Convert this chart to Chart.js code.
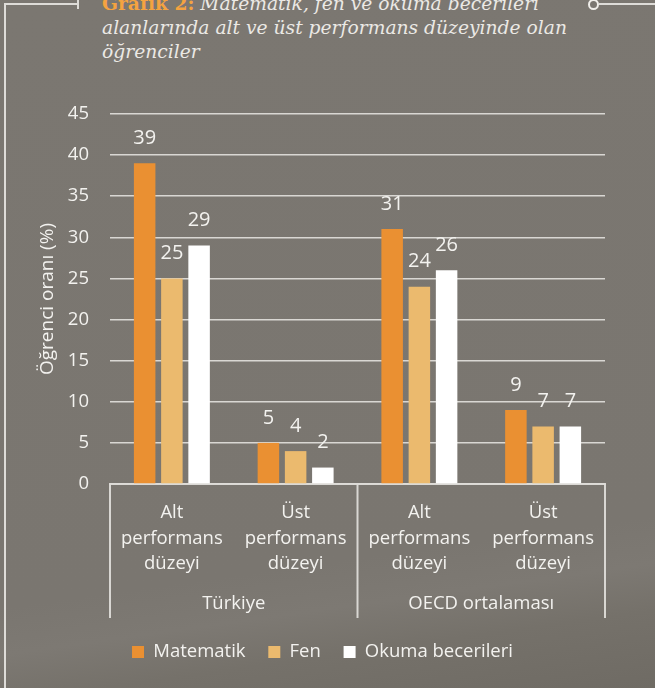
<!DOCTYPE html>
<html lang="tr">
<head>
<meta charset="utf-8">
<script src="https://cdn.jsdelivr.net/npm/chart.js@4.4.1/dist/chart.umd.min.js"></script>
<style>
  html, body { margin: 0; padding: 0; }
  body {
    width: 655px; height: 688px; overflow: hidden; position: relative;
    background: linear-gradient(172deg, #7b7771 0%, #7a7670 78%, #7d7973 84%, #75716a 90%, #6f6b64 100%);
  }
  .frame-left { position: absolute; left: 4px; top: 4px; width: 2px; height: 700px; background: #dedcd8; }
  .frame-top { position: absolute; left: 4px; top: 3px; width: 75px; height: 2px; background: #dedcd8; }
  .frame-tick { position: absolute; left: 77px; top: 0; width: 2px; height: 9px; background: #dedcd8; }
  .frame-dot { position: absolute; left: 588px; top: -1px; width: 7px; height: 7px; border: 2px solid #f0eeea; border-radius: 50%; }
  .frame-right { position: absolute; left: 599px; top: 3px; width: 60px; height: 2px; background: #dedcd8; }
  .title {
    position: absolute; left: 102px; top: -9px; width: 540px;
    font-family: 'DejaVu Serif', serif; font-style: italic; font-size: 18.7px;
    line-height: 24px; color: #ebe9e5;
  }
  .title b { color: #f4a340; font-style: normal; }
  canvas { position: absolute; left: 0; top: 0; }
</style>
</head>
<body>
<div class="frame-left"></div>
<div class="frame-top"></div>
<div class="frame-tick"></div>
<div class="frame-dot"></div>
<div class="frame-right"></div>
<div class="title"><b>Grafik 2:</b> Matematik, fen ve okuma becerileri<br>alanlarında alt ve üst performans düzeyinde olan<br>öğrenciler</div>
<canvas id="chart" width="655" height="688"></canvas>
<script>
// veriler
const categories = [
  ['Alt', 'performans', 'düzeyi'],
  ['Üst', 'performans', 'düzeyi'],
  ['Alt', 'performans', 'düzeyi'],
  ['Üst', 'performans', 'düzeyi']
];
const groups = ['Türkiye', 'OECD ortalaması'];
const seriesNames = ['Matematik', 'Fen', 'Okuma becerileri'];
const matematik = [39, 5, 31, 9];
const fen = [25, 4, 24, 7];
const okuma = [29, 2, 26, 7];
const yMin = 0, yMax = 45, yStep = 5;

const seriesColors = ['#ea9032', '#ebba6e', '#ffffff'];
const textColor = '#f3f2ef';
const lineColor = 'rgba(222, 220, 216, 0.95)';

Chart.defaults.font.family = "'Open Sans', sans-serif";
Chart.defaults.color = textColor;

// Werte über den Balken
const barValueLabels = {
  id: 'barValueLabels',
  afterDatasetsDraw(chart) {
    const ctx = chart.ctx;
    ctx.save();
    ctx.font = "20px 'Open Sans', sans-serif";
    ctx.fillStyle = textColor;
    ctx.textAlign = 'center';
    ctx.textBaseline = 'middle';
    chart.data.datasets.forEach((ds, i) => {
      chart.getDatasetMeta(i).data.forEach((bar, j) => {
        ctx.fillText(ds.data[j], bar.x, bar.y - 25);
      });
    });
    ctx.restore();
  }
};

// Gruppen-Achse (Türkiye / OECD)
const groupAxis = {
  id: 'groupAxis',
  afterDraw(chart) {
    const x = chart.scales.x;
    const bottom = chart.chartArea.bottom;
    const mid = (x.getPixelForValue(1) + x.getPixelForValue(2)) / 2;
    const bounds = [x.left, mid, x.right];
    const ctx = chart.ctx;
    ctx.save();
    ctx.strokeStyle = lineColor;
    ctx.lineWidth = 2;
    bounds.forEach(b => {
      ctx.beginPath();
      ctx.moveTo(b, bottom);
      ctx.lineTo(b, bottom + 134);
      ctx.stroke();
    });
    ctx.font = "18.5px 'Open Sans', sans-serif";
    ctx.fillStyle = textColor;
    ctx.textAlign = 'center';
    ctx.textBaseline = 'middle';
    groups.forEach((g, i) => {
      ctx.fillText(g, (bounds[i] + bounds[i + 1]) / 2, bottom + 120);
    });
    ctx.restore();
  }
};

new Chart(document.getElementById('chart'), {
  type: 'bar',
  data: {
    labels: categories,
    datasets: [
      { label: seriesNames[0], data: matematik, backgroundColor: seriesColors[0] },
      { label: seriesNames[1], data: fen, backgroundColor: seriesColors[1] },
      { label: seriesNames[2], data: okuma, backgroundColor: seriesColors[2] }
    ]
  },
  options: {
    responsive: false,
    animation: false,
    categoryPercentage: 0.66,
    barPercentage: 0.79,
    layout: { padding: { top: 114, left: 0, right: 10, bottom: 16.75 } },
    plugins: {
      legend: {
        position: 'bottom',
        labels: {
          boxWidth: 12,
          boxHeight: 12,
          padding: 22.75,
          font: { size: 18.5 },
          color: textColor
        }
      },
      tooltip: { enabled: false }
    },
    scales: {
      x: {
        grid: { display: false },
        border: { display: true, color: lineColor, width: 2 },
        ticks: { padding: 8, font: { size: 18.5, lineHeight: 1.38 }, color: textColor, maxRotation: 0 },
        afterFit: s => { s.height = 136; }
      },
      y: {
        min: yMin,
        max: yMax,
        grid: { color: lineColor, lineWidth: 1.5, drawTicks: false },
        border: { display: false },
        ticks: { stepSize: yStep, padding: 21, font: { size: 18.5 }, color: textColor },
        title: {
          display: true,
          text: 'Öğrenci oranı (%)',
          font: { size: 19 },
          color: textColor,
          padding: { top: 36, bottom: 0 }
        },
        afterFit: s => { s.width = 110; }
      },
      y2: {
        position: 'right',
        grid: { display: false, drawTicks: false },
        border: { display: false },
        ticks: { display: false },
        afterFit: s => { s.width = 40; }
      }
    }
  },
  plugins: [barValueLabels, groupAxis]
});
</script>
</body>
</html>
